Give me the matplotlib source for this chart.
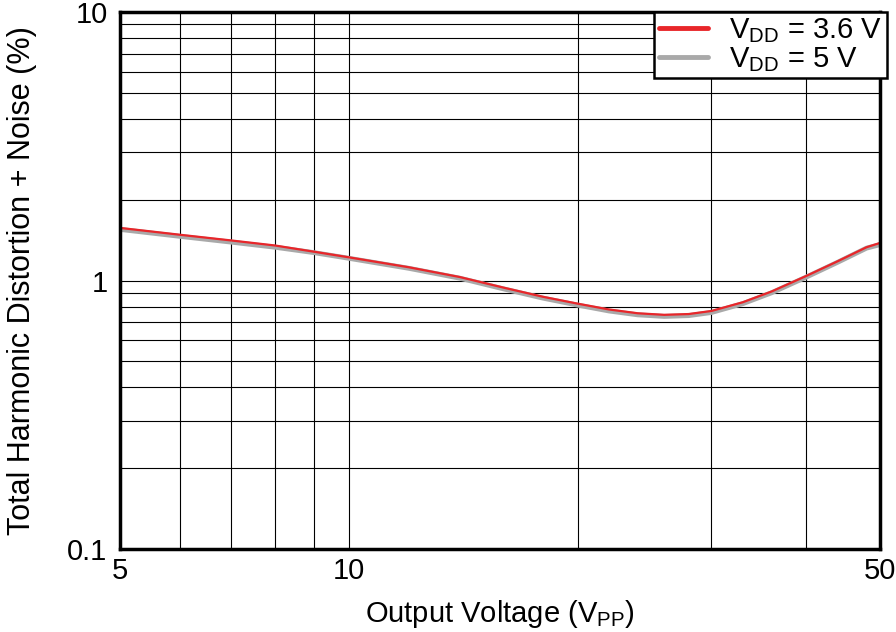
import matplotlib
matplotlib.use("Agg")
import matplotlib.pyplot as plt
import numpy as np
from matplotlib.ticker import FixedLocator, NullFormatter
from matplotlib.lines import Line2D

plt.rcParams['font.family'] = ['Liberation Sans', 'DejaVu Sans']
plt.rcParams['mathtext.fontset'] = 'custom'
plt.rcParams['mathtext.rm'] = 'Liberation Sans'

# Output voltage (Vpp)
vout = [5, 6, 7, 8, 9, 10, 12, 14, 16, 18, 20, 22, 24, 26, 28, 30, 33, 36, 40, 44, 48, 50]
# THD+N (%) for each supply
thd_36 = [1.57, 1.48, 1.41, 1.35, 1.28, 1.22, 1.12, 1.03, 0.94, 0.87, 0.82, 0.78, 0.755, 0.745, 0.75, 0.77, 0.83, 0.91, 1.04, 1.18, 1.33, 1.38]
thd_5 = [1.55, 1.46, 1.39, 1.33, 1.27, 1.21, 1.11, 1.02, 0.93, 0.86, 0.81, 0.77, 0.745, 0.735, 0.74, 0.76, 0.82, 0.90, 1.03, 1.17, 1.32, 1.36]

fig = plt.figure(figsize=(8.96, 6.32), dpi=100)
ax = fig.add_axes([120 / 896, 1 - 549 / 632, 760 / 896, 537 / 632])

ax.plot(vout, thd_5, color='#a9a9a9', lw=3.5, solid_capstyle='round')
ax.plot(vout, thd_36, color='#e8262a', lw=1.6)

ax.set_xscale('log')
ax.set_yscale('log')
ax.set_xlim(5, 50)
ax.set_ylim(0.1, 10)

ax.xaxis.set_major_locator(FixedLocator([5, 10, 50]))
ax.xaxis.set_minor_locator(FixedLocator([6, 7, 8, 9, 20, 30, 40]))
ax.set_xticklabels(['5', '10', '50'])
ax.xaxis.set_minor_formatter(NullFormatter())
ax.yaxis.set_major_locator(FixedLocator([0.1, 1, 10]))
ax.yaxis.set_minor_locator(FixedLocator([0.2, 0.3, 0.4, 0.5, 0.6, 0.7, 0.8, 0.9,
                                         2, 3, 4, 5, 6, 7, 8, 9]))
ax.set_yticklabels(['0.1', '1', '10'])
ax.yaxis.set_minor_formatter(NullFormatter())

ax.grid(which='both', color='black', lw=0.8)
ax.tick_params(which='both', length=0, labelsize=21)
ax.tick_params(axis='y', pad=9)
ax.tick_params(axis='x', pad=6)
for s in ax.spines.values():
    s.set_linewidth(2.5)

ax.set_xlabel('Output Voltage (V$_{\\mathregular{PP}}$)', fontsize=21, labelpad=9)
ax.set_ylabel('Total Harmonic Distortion + Noise (%)', fontsize=22, labelpad=22)

handles = [Line2D([], [], color='#e8262a', lw=3.5, solid_capstyle='round'),
           Line2D([], [], color='#a9a9a9', lw=3.5, solid_capstyle='round')]
labels = ['V$_{\\mathregular{DD}}$ = 3.6 V', 'V$_{\\mathregular{DD}}$ = 5 V']
leg = ax.legend(handles, labels, loc='upper right', bbox_to_anchor=(1.009, 1.0),
                fontsize=21, frameon=True, fancybox=False, framealpha=1,
                edgecolor='black', borderpad=0.15, labelspacing=0.0,
                handlelength=1.7, handletextpad=0.72, borderaxespad=0)
leg.get_frame().set_linewidth(1.8)

fig.savefig('out.png', dpi=100)
